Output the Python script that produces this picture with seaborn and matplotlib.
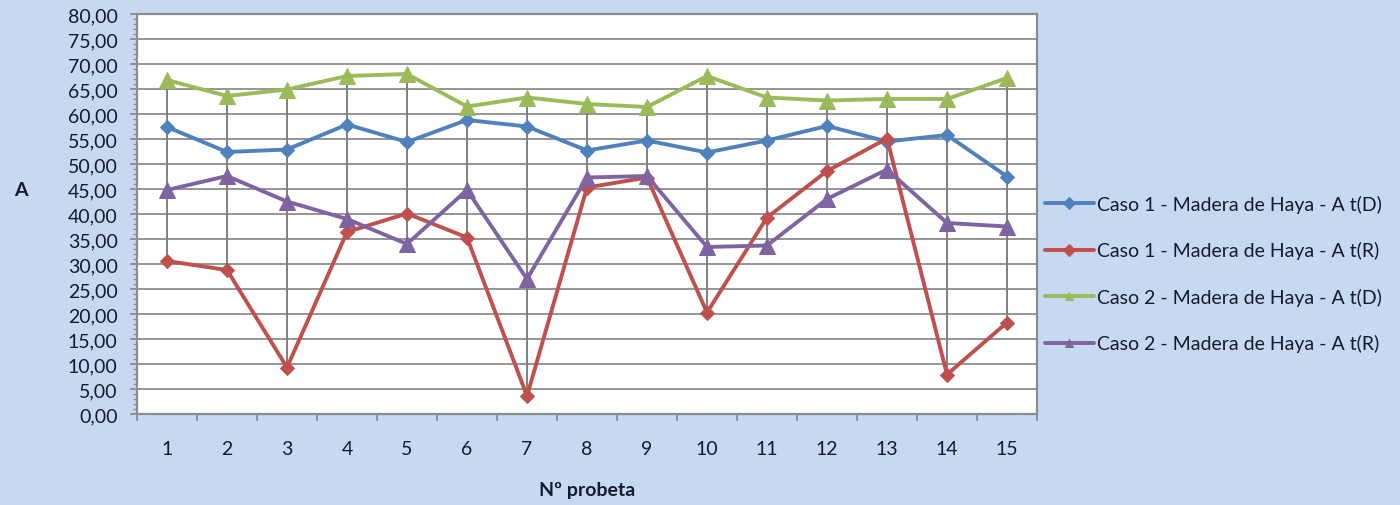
import numpy as np
import pandas as pd
import matplotlib
matplotlib.use('Agg')
import matplotlib.pyplot as plt
import seaborn as sns
from matplotlib.ticker import MultipleLocator, FixedLocator, FuncFormatter

probeta = list(range(1, 16))
caso1_d = [57.4, 52.4, 52.9, 57.9, 54.4, 58.8, 57.5, 52.7, 54.7, 52.3, 54.7, 57.6, 54.5, 55.8, 47.5]
caso1_r = [30.6, 28.8, 9.3, 36.4, 40.1, 35.3, 3.6, 45.3, 47.3, 20.3, 39.3, 48.6, 55.1, 7.9, 18.3]
caso2_d = [66.8, 63.6, 64.9, 67.6, 68.0, 61.5, 63.3, 62.0, 61.4, 67.6, 63.3, 62.7, 63.0, 63.0, 67.2]
caso2_r = [44.8, 47.6, 42.5, 39.0, 34.0, 44.8, 27.0, 47.3, 47.6, 33.4, 33.7, 43.0, 48.9, 38.2, 37.5]

series_names = ['Caso 1 - Madera de Haya - A t(D)', 'Caso 1 - Madera de Haya - A t(R)',
                'Caso 2 - Madera de Haya - A t(D)', 'Caso 2 - Madera de Haya - A t(R)']
colors = ['#4F81BD', '#C0504D', '#9BBB59', '#8064A2']
markers = ['D', 'D', '^', '^']

sns.set_style('white')
plt.rcParams['font.family'] = ['Lato', 'DejaVu Sans']

bg = '#C6D9F0'
txt = '#141B2E'
fs = 14
fig = plt.figure(figsize=(14, 5.06), dpi=100, facecolor=bg)
ax = fig.add_axes([137 / 1400, 1 - 415 / 506, 900 / 1400, 400 / 506])
ax.set_facecolor('white')

df = pd.DataFrame({'probeta': probeta * 4,
                   'A': caso1_d + caso1_r + caso2_d + caso2_r,
                   'serie': np.repeat(series_names, len(probeta))})

# lineas max-min en cada probeta
wide = np.array([caso1_d, caso1_r, caso2_d, caso2_r])
ax.vlines(probeta, wide.min(axis=0), wide.max(axis=0), color='#808080', lw=1.4, zorder=1)

for name, c, m in zip(series_names, colors, markers):
    sub = df[df['serie'] == name]
    sns.lineplot(data=sub, x='probeta', y='A', ax=ax, color=c, marker=m,
                 markersize=7.5 if m == 'D' else 11, markeredgecolor=c, lw=2.8,
                 label=name, zorder=3)

ax.set_xlim(0.5, 15.5)
ax.set_ylim(0, 80)
ax.yaxis.set_major_locator(MultipleLocator(5))
ax.yaxis.set_minor_locator(MultipleLocator(1))
ax.yaxis.set_major_formatter(FuncFormatter(lambda v, p: f'{v:.2f}'.replace('.', ',')))
ax.grid(axis='y', which='major', color='#8C8C8C', lw=1.3)
ax.set_axisbelow(True)

ax.xaxis.set_major_locator(FixedLocator(np.arange(0.5, 16, 1)))
ax.xaxis.set_major_formatter(FuncFormatter(lambda v, p: ''))
ax.xaxis.set_minor_locator(FixedLocator(probeta))
ax.xaxis.set_minor_formatter(FuncFormatter(lambda v, p: f'{int(v)}'))
ax.tick_params(axis='x', which='major', direction='out', length=5, width=1.3, color='#8C8C8C', bottom=True)
ax.tick_params(axis='x', which='minor', length=0, pad=19, labelsize=fs, labelcolor=txt)
ax.tick_params(axis='y', which='major', direction='out', length=5, width=1.3, color='#8C8C8C', left=True,
               labelsize=fs, labelcolor=txt, pad=9)
ax.tick_params(axis='y', which='minor', direction='out', length=3, width=0.9, color='#8C8C8C', left=True)

for s in ax.spines.values():
    s.set_color('#8C8C8C')
    s.set_linewidth(1.6)

ax.set_xlabel('Nº probeta', fontsize=fs, fontweight='bold', color=txt, labelpad=17)
ax.set_ylabel('')
fig.text(21 / 1400, 1 - 191 / 506, 'A', fontsize=fs, fontweight='bold', color=txt, ha='center', va='center')

leg = ax.legend(loc='center left', bbox_to_anchor=(1.009, 0.351), frameon=False, fontsize=fs,
                handlelength=2.5, handletextpad=0.15, labelspacing=1.46, borderaxespad=0,
                borderpad=0)
for t in leg.get_texts():
    t.set_color(txt)
for h in leg.legend_handles:
    h.set_markersize(6)

fig.savefig('out.png', dpi=100, facecolor=bg)
